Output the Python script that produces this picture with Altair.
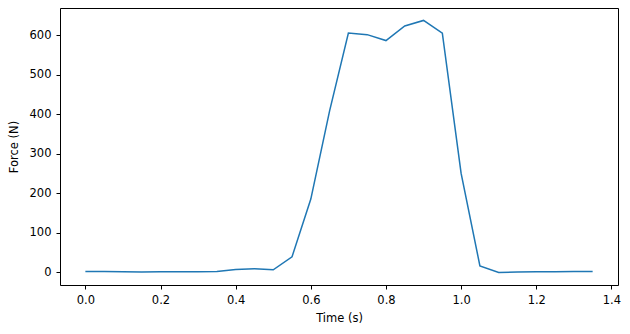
import altair as alt
import pandas as pd

time_s = [0.0, 0.05, 0.1, 0.15, 0.2, 0.25, 0.3, 0.35, 0.4, 0.45, 0.5, 0.55, 0.6, 0.65,
          0.7, 0.75, 0.8, 0.85, 0.9, 0.95, 1.0, 1.05, 1.1, 1.15, 1.2, 1.25, 1.3, 1.35]
force_n = [2, 2, 1, 0.5, 1, 1, 1, 1.5, 7, 9, 6, 39, 185, 408,
           605, 601, 586, 623, 637, 605, 250, 16, -0.5, 0.5, 1, 1, 1.5, 1.5]

x_ticks = [0.0, 0.2, 0.4, 0.6, 0.8, 1.0, 1.2, 1.4]
y_ticks = [0, 100, 200, 300, 400, 500, 600]

df = pd.DataFrame({"t": time_s, "f": force_n})

font = "DejaVu Sans"
xscale = alt.Scale(domain=[-0.0675, 1.4175], nice=False, zero=False)
yscale = alt.Scale(domain=[-32.4, 668.4], nice=False, zero=False)

common = dict(grid=False, domainColor="black", tickColor="black", tickSize=4,
              labelPadding=5, labelColor="black", titleColor="black",
              titleFontWeight="normal", labelFont=font, titleFont=font,
              labelFontSize=11.5, titleFontSize=11.5)

main = alt.Chart(df).mark_line(color="#1f77b4", strokeWidth=1.5, clip=True).encode(
    x=alt.X("t:Q", title="Time (s)", scale=xscale,
            axis=alt.Axis(values=x_ticks, format=".1f", titlePadding=7, **common)),
    y=alt.Y("f:Q", title="Force (N)", scale=yscale,
            axis=alt.Axis(values=y_ticks, titlePadding=10, **common)),
)

frame = alt.Chart(df).mark_line(opacity=0).encode(
    x=alt.X("t:Q", scale=xscale,
            axis=alt.Axis(orient="top", title=None, labels=False, ticks=False,
                          grid=False, domainColor="black")),
    y=alt.Y("f:Q", scale=yscale,
            axis=alt.Axis(orient="right", title=None, labels=False, ticks=False,
                          grid=False, domainColor="black")),
)

chart = alt.layer(main, frame).resolve_axis(x="independent", y="independent").properties(
    width=558, height=277,
    padding={"left": 60, "top": 8, "right": 12, "bottom": 49},
    autosize=alt.AutoSizeParams(type="none"),
).configure_view(stroke=None).configure(background="white")

chart.save("out.html", embed_options={"renderer": "svg", "actions": False})
